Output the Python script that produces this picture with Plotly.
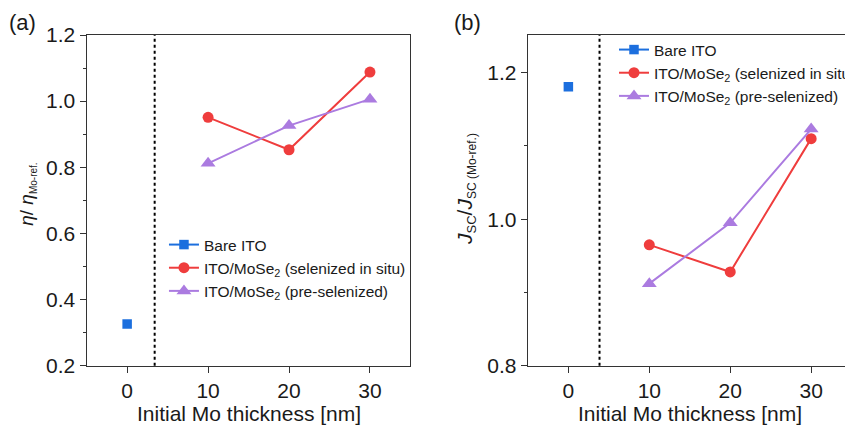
import plotly.graph_objects as go

# ---- data ----
thickness_bare = [0]
thickness = [10, 20, 30]
eta_bare = [0.326]
eta_insitu = [0.951, 0.853, 1.088]
eta_pre = [0.812, 0.926, 1.006]
jsc_bare = [1.181]
jsc_insitu = [0.965, 0.928, 1.110]
jsc_pre = [0.912, 0.995, 1.123]
names = ["Bare ITO", "ITO/MoSe<sub>2</sub> (selenized in situ)", "ITO/MoSe<sub>2</sub> (pre-selenized)"]
x_ticks = [0, 10, 20, 30]
sep_a = 3.4
sep_b = 3.85

# the page body keeps its default 8px margin, so layout coordinates are shifted by it
OFF = 8
W, H = 853, 432
BLUE = "#1c6fde"
RED = "#ef3d3d"
PURPLE = "#ab7be0"
FONT = "Liberation Sans, Arial, sans-serif"

def px(v):
    return (v - OFF) / W

def py(v):
    return 1 - (v - OFF) / H

fig = go.Figure()

styles = [
    (BLUE, "square", 9.5),
    (RED, "circle", 11),
    (PURPLE, "triangle-up", 13),
]

for (xs, ys), (col, sym, sz), nm in zip(
    [(thickness_bare, eta_bare), (thickness, eta_insitu), (thickness, eta_pre)], styles, names
):
    fig.add_trace(go.Scatter(x=xs, y=ys, mode="lines+markers", name=nm,
                             line=dict(color=col, width=2),
                             marker=dict(symbol=sym, size=sz, color=col),
                             xaxis="x", yaxis="y", legend="legend"))

for (xs, ys), (col, sym, sz), nm in zip(
    [(thickness_bare, jsc_bare), (thickness, jsc_insitu), (thickness, jsc_pre)], styles, names
):
    fig.add_trace(go.Scatter(x=xs, y=ys, mode="lines+markers", name=nm,
                             line=dict(color=col, width=2),
                             marker=dict(symbol=sym, size=sz, color=col),
                             xaxis="x2", yaxis="y2", legend="legend2"))

axis_common = dict(showline=True, linecolor="#333", linewidth=1.3, ticks="outside",
                   tickcolor="#333", tickwidth=1.3, ticklen=6, showgrid=False, zeroline=False,
                   automargin=False, tickfont=dict(family=FONT, size=21, color="#1a1a1a"))

ydom = [py(365.7), py(35)]

fig.update_layout(
    width=W, height=H, autosize=False,
    margin=dict(l=0, r=0, t=0, b=0),
    plot_bgcolor="white", paper_bgcolor="white",
    font=dict(family=FONT, color="#1a1a1a"),
    xaxis=dict(domain=[px(87.7), px(415.7)], range=[-5, 35], tickvals=x_ticks,
               mirror=True, anchor="y", **axis_common),
    yaxis=dict(domain=ydom, range=[0.2, 1.2], dtick=0.2, tickformat=".1f", mirror=True, anchor="x",
               minor=dict(dtick=0.1, ticks="outside", ticklen=3, tickcolor="#333", showgrid=False),
               **axis_common),
    xaxis2=dict(domain=[px(534.7), 1.0], range=[-5, 34.8], tickvals=x_ticks,
                mirror=True, anchor="y2", **axis_common),
    yaxis2=dict(domain=ydom, range=[0.8, 1.2515], tickvals=[0.8, 1.0, 1.2], tickformat=".1f",
                mirror=False, anchor="x2",
                minor=dict(tickvals=[0.9, 1.1], ticks="outside", ticklen=3, tickcolor="#333", showgrid=False),
                **axis_common),
    legend=dict(x=px(166), y=py(228), xanchor="left", yanchor="top", bgcolor="rgba(0,0,0,0)",
                font=dict(family=FONT, size=15.5, color="#1a1a1a"), tracegroupgap=0, itemwidth=30),
    legend2=dict(x=px(622), y=py(33), xanchor="left", yanchor="top", bgcolor="rgba(0,0,0,0)",
                 font=dict(family=FONT, size=15.5, color="#1a1a1a"), tracegroupgap=0, itemwidth=30),
    showlegend=True,
)

# dotted separators
fig.add_shape(type="line", xref="x", yref="y domain", x0=sep_a, x1=sep_a, y0=0, y1=1,
              line=dict(color="black", width=2, dash="dot"))
fig.add_shape(type="line", xref="x2", yref="y2 domain", x0=sep_b, x1=sep_b, y0=0, y1=1,
              line=dict(color="black", width=2, dash="dot"))

# titles
ann = [
    dict(text="(a)", x=px(23), y=py(22), size=22, angle=0),
    dict(text="(b)", x=px(473), y=py(22), size=22, angle=0),
    dict(text="Initial Mo thickness [nm]", x=px(252), y=py(413), size=21, angle=0),
    dict(text="Initial Mo thickness [nm]", x=px(699), y=py(413), size=21, angle=0),
    dict(text="<i>η</i>/ <i>η</i><sub><span style='font-size:10px'>Mo-ref.</span></sub>",
         x=px(27), y=py(194), size=19, angle=-90),
    dict(text="<i>J</i><sub><span style='font-size:13px'>SC</span></sub>/<i>J</i>"
              "<sub><span style='font-size:12px'>SC (Mo-ref.)</span></sub>",
         x=px(472), y=py(189), size=21, angle=-90),
]
for a in ann:
    fig.add_annotation(text=a["text"], x=a["x"], y=a["y"], xref="paper", yref="paper",
                       xanchor="center", yanchor="middle", showarrow=False, textangle=a["angle"],
                       font=dict(family=FONT, size=a["size"], color="#1a1a1a"))

fig.write_html("out.html")
